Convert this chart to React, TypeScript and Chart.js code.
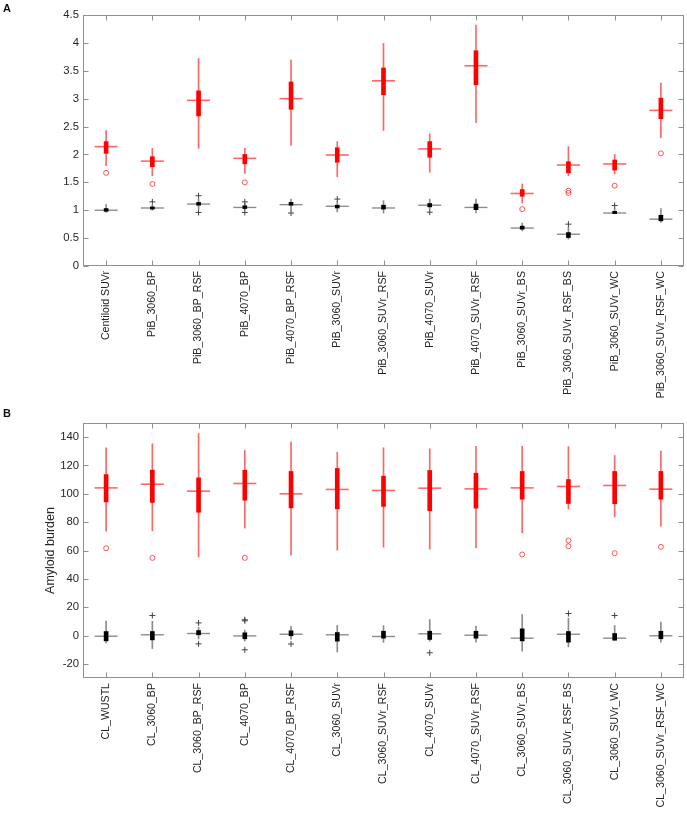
import React, { useEffect, useRef } from 'react';
import { Chart, registerables } from 'chart.js';

Chart.register(...registerables);

const FONT = "'Liberation Sans', Arial, Helvetica, sans-serif";
const TEXT = '#262626';

// ---------- Panel A ----------
const catsA = [
  'Centiloid SUVr', 'PiB_3060_BP', 'PiB_3060_BP_RSF', 'PiB_4070_BP', 'PiB_4070_BP_RSF',
  'PiB_3060_SUVr', 'PiB_3060_SUVr_RSF', 'PiB_4070_SUVr', 'PiB_4070_SUVr_RSF',
  'PiB_3060_SUVr_BS', 'PiB_3060_SUVr_RSF_BS', 'PiB_3060_SUVr_WC', 'PiB_3060_SUVr_RSF_WC',
];
const yTicksA = [0, 0.5, 1, 1.5, 2, 2.5, 3, 3.5, 4, 4.5];

const redMinA = [1.80, 1.62, 2.11, 1.66, 2.16, 1.60, 2.43, 1.68, 2.57, 1.13, 1.62, 1.65, 2.30];
const redQ1A = [2.02, 1.78, 2.69, 1.83, 2.81, 1.86, 3.07, 1.95, 3.25, 1.25, 1.67, 1.72, 2.64];
const redMedA = [2.14, 1.88, 2.97, 1.93, 3.00, 1.99, 3.32, 2.10, 3.59, 1.30, 1.81, 1.83, 2.79];
const redQ3A = [2.23, 1.96, 3.14, 2.00, 3.30, 2.12, 3.55, 2.23, 3.86, 1.37, 1.87, 1.90, 3.01];
const redMaxA = [2.43, 2.11, 3.72, 2.11, 3.69, 2.23, 3.99, 2.37, 4.32, 1.47, 2.14, 2.00, 3.28];
const redOutA = [[1.67], [1.47], [], [1.50], [], [], [], [], [], [1.02], [1.35, 1.31], [1.44], [2.02]];

const blkMinA = [0.96, 1.00, 1.02, 1.00, 1.00, 0.97, 0.95, 1.02, 0.95, 0.63, 0.48, 0.94, 0.78];
const blkQ1A = [0.98, 1.02, 1.09, 1.03, 1.09, 1.04, 1.02, 1.06, 1.01, 0.66, 0.51, 0.94, 0.81];
const blkMedA = [1.00, 1.04, 1.11, 1.05, 1.10, 1.07, 1.04, 1.09, 1.05, 0.68, 0.57, 0.95, 0.84];
const blkQ3A = [1.03, 1.06, 1.14, 1.08, 1.14, 1.09, 1.09, 1.12, 1.11, 0.715, 0.60, 0.98, 0.91];
const blkMaxA = [1.10, 1.09, 1.20, 1.12, 1.20, 1.15, 1.17, 1.20, 1.20, 0.77, 0.70, 1.04, 1.03];
const blkOutA = [[], [1.15], [1.26, 0.96], [1.15, 0.96], [0.95], [1.20], [], [0.965], [], [], [0.75], [1.085], []];

// ---------- Panel B ----------
const catsB = [
  'CL_WUSTL', 'CL_3060_BP', 'CL_3060_BP_RSF', 'CL_4070_BP', 'CL_4070_BP_RSF',
  'CL_3060_SUVr', 'CL_3060_SUVr_RSF', 'CL_4070_SUVr', 'CL_4070_SUVr_RSF',
  'CL_3060_SUVr_BS', 'CL_3060_SUVr_RSF_BS', 'CL_3060_SUVr_WC', 'CL_3060_SUVr_RSF_WC',
];
const yTicksB = [-20, 0, 20, 40, 60, 80, 100, 120, 140];

const redMinB = [73.6, 73.9, 55.5, 75.8, 56.7, 60.2, 62.3, 60.9, 61.9, 72.5, 89.2, 83.8, 77.2];
const redQ1B = [94.3, 93.9, 87.0, 95.5, 90.1, 89.4, 91.1, 88.0, 89.9, 96.2, 93.2, 93.0, 96.2];
const redMedB = [104.2, 106.8, 101.9, 107.3, 100.0, 103.1, 102.4, 104.0, 103.5, 104.2, 105.2, 105.9, 103.3];
const redQ3B = [113.6, 116.7, 111.3, 116.7, 115.8, 117.9, 112.5, 116.5, 114.6, 115.8, 110.1, 115.8, 115.8];
const redMaxB = [132.5, 135.3, 142.6, 130.6, 136.5, 129.4, 132.5, 131.8, 133.6, 133.6, 133.4, 127.1, 130.1];
const redOutB = [[61.6], [54.8], [], [54.8], [], [], [], [], [], [57.2], [67.1, 63.0], [58.1], [62.6]];

const blkMinB = [-5.2, -9.2, -2.4, -4.0, -2.6, -11.6, -4.9, -4.0, -4.7, -11.1, -8.0, -3.5, -4.7];
const blkQ1B = [-3.8, -3.1, 0.5, -2.3, -0.2, -4.0, -1.9, -2.8, -1.9, -3.8, -4.7, -3.3, -2.3];
const blkMedB = [-0.5, 0.5, 1.4, -0.3, 0.9, 0.5, -0.7, 1.2, 0.2, -1.9, 0.9, -1.9, -0.2];
const blkQ3B = [2.8, 2.8, 3.5, 1.9, 3.3, 2.1, 3.0, 3.0, 3.0, 4.7, 2.8, 1.4, 3.0];
const blkMaxB = [10.1, 10.1, 5.6, 3.8, 6.5, 7.2, 7.0, 11.3, 6.6, 14.8, 12.2, 7.1, 9.4];
const blkOutB = [[], [14.1], [8.9, -5.9], [11.1, 10.4, -10.1], [-6.0], [], [], [-12.2], [], [], [15.5], [14.1], []];

// ---------- helpers ----------
const boxPlugin = {
  id: 'matlabBox',
  beforeDatasetsDraw(chart: any) {
    const { ctx, chartArea: a, scales } = chart;
    const xs = scales.x;
    const ys = scales.y;
    const L = Math.round(a.left) + 0.5;
    const R = Math.round(a.right) - 0.5;
    const T = Math.round(a.top) + 0.5;
    const B = Math.round(a.bottom) - 0.5;
    ctx.save();
    ctx.strokeStyle = '#8f8f8f';
    ctx.lineWidth = 1;
    ctx.strokeRect(L, T, R - L, B - T);
    ctx.beginPath();
    ys.ticks.forEach((t: any) => {
      const py = Math.round(ys.getPixelForValue(t.value)) + 0.5;
      ctx.moveTo(L, py); ctx.lineTo(L + 5, py);
      ctx.moveTo(R, py); ctx.lineTo(R - 5, py);
    });
    xs.ticks.forEach((_t: any, i: number) => {
      const px = Math.round(xs.getPixelForTick(i)) + 0.5;
      ctx.moveTo(px, B); ctx.lineTo(px, B - 5);
      ctx.moveTo(px, T); ctx.lineTo(px, T + 5);
    });
    ctx.stroke();
    ctx.restore();
  },
};

function outlierPoints(cats: string[], outs: number[][]) {
  const pts: { x: string; y: number }[] = [];
  outs.forEach((list, i) => list.forEach((v) => pts.push({ x: cats[i], y: v })));
  return pts;
}

function makeConfig(p: {
  cats: string[];
  red: number[][]; redOut: number[][];
  blk: number[][]; blkOut: number[][];
  yTicks: number[]; yMin: number; yMax: number;
  padTop: number; xHeight: number; yTitle?: string;
}) {
  const [rMin, rQ1, rMed, rQ3, rMax] = p.red;
  const [bMin, bQ1, bMed, bQ3, bMax] = p.blk;
  return {
    type: 'bar',
    data: {
      labels: p.cats,
      datasets: [
        {
          type: 'line', data: outlierPoints(p.cats, p.redOut), showLine: false,
          pointStyle: 'circle', pointRadius: 2.5, pointBorderWidth: 1,
          pointBorderColor: 'rgba(255,0,0,0.65)', pointBackgroundColor: 'rgba(0,0,0,0)',
        },
        {
          type: 'line', data: outlierPoints(p.cats, p.blkOut), showLine: false,
          pointStyle: 'cross', pointRadius: 3, pointBorderWidth: 1,
          pointBorderColor: '#444444', pointBackgroundColor: 'rgba(0,0,0,0)',
        },
        {
          type: 'bar', data: rQ1.map((v, i) => [v, rQ3[i]]), backgroundColor: '#ff0000',
          barThickness: 4, grouped: false, borderWidth: 0,
        },
        {
          type: 'bar', data: bQ1.map((v, i) => [v, bQ3[i]]), backgroundColor: '#000000',
          barThickness: 4, grouped: false, borderWidth: 0,
        },
        {
          type: 'line', data: rMed, showLine: false,
          pointStyle: 'line', pointRadius: 11.5, pointBorderWidth: 1.6,
          pointBorderColor: 'rgba(255,0,0,0.6)',
        },
        {
          type: 'line', data: bMed, showLine: false,
          pointStyle: 'line', pointRadius: 11.5, pointBorderWidth: 1.4,
          pointBorderColor: 'rgba(0,0,0,0.45)',
        },
        {
          type: 'bar', data: rMin.map((v, i) => [v, rMax[i]]), backgroundColor: 'rgba(255,0,0,0.6)',
          barThickness: 1, grouped: false, borderWidth: 0,
        },
        {
          type: 'bar', data: bMin.map((v, i) => [v, bMax[i]]), backgroundColor: 'rgba(0,0,0,0.45)',
          barThickness: 1, grouped: false, borderWidth: 0,
        },
      ],
    },
    options: {
      responsive: false,
      animation: false,
      events: [],
      devicePixelRatio: 1,
      layout: { autoPadding: false, padding: { top: p.padTop, right: 3, left: 0, bottom: 0 } },
      plugins: { legend: { display: false }, tooltip: { enabled: false } },
      scales: {
        x: {
          type: 'category',
          offset: true,
          grid: { display: false, drawTicks: false, tickLength: 0 },
          border: { display: false },
          ticks: {
            autoSkip: false, minRotation: 90, maxRotation: 90, padding: 5,
            color: TEXT, font: { family: FONT, size: 10.6 },
          },
          afterFit: (s: any) => {
            s.height = p.xHeight;
            s.paddingLeft = 0;
            s.paddingRight = 0;
          },
        },
        y: {
          type: 'linear',
          min: p.yMin, max: p.yMax,
          grid: { display: false, drawTicks: false, tickLength: 0 },
          border: { display: false },
          afterBuildTicks: (s: any) => { s.ticks = p.yTicks.map((v) => ({ value: v })); },
          ticks: {
            padding: 4, color: TEXT, font: { family: FONT, size: 11.3 },
            callback: (v: any) => String(v),
          },
          title: p.yTitle
            ? {
                display: true, text: p.yTitle, color: TEXT,
                font: { family: FONT, size: 12.5 }, padding: { top: 43, bottom: 0 },
              }
            : { display: false },
          afterFit: (s: any) => { s.width = 83; },
        },
      },
    },
    plugins: [boxPlugin],
  };
}

export default function App() {
  const refA = useRef<HTMLCanvasElement>(null);
  const refB = useRef<HTMLCanvasElement>(null);

  useEffect(() => {
    const a = new Chart(refA.current as any, makeConfig({
      cats: catsA,
      red: [redMinA, redQ1A, redMedA, redQ3A, redMaxA], redOut: redOutA,
      blk: [blkMinA, blkQ1A, blkMedA, blkQ3A, blkMaxA], blkOut: blkOutA,
      yTicks: yTicksA, yMin: 0, yMax: 4.5, padTop: 15, xHeight: 139,
    }) as any);
    const b = new Chart(refB.current as any, makeConfig({
      cats: catsB,
      red: [redMinB, redQ1B, redMedB, redQ3B, redMaxB], redOut: redOutB,
      blk: [blkMinB, blkQ1B, blkMedB, blkQ3B, blkMaxB], blkOut: blkOutB,
      yTicks: yTicksB, yMin: -30, yMax: 150, padTop: 18, xHeight: 141,
      yTitle: 'Amyloid burden',
    }) as any);
    return () => { a.destroy(); b.destroy(); };
  }, []);

  const letter: React.CSSProperties = {
    position: 'absolute', left: 3, fontFamily: FONT, fontWeight: 'bold',
    fontSize: 11, lineHeight: '11px', color: '#111',
  };

  return (
    <div style={{ position: 'absolute', left: 0, top: 0, width: 687, height: 819, background: '#fff' }}>
      <canvas ref={refA} width={687} height={405}
        style={{ position: 'absolute', left: 0, top: 0, width: 687, height: 405 }} />
      <canvas ref={refB} width={687} height={414}
        style={{ position: 'absolute', left: 0, top: 405, width: 687, height: 414 }} />
      <div style={{ ...letter, top: 3 }}>A</div>
      <div style={{ ...letter, top: 408 }}>B</div>
    </div>
  );
}
